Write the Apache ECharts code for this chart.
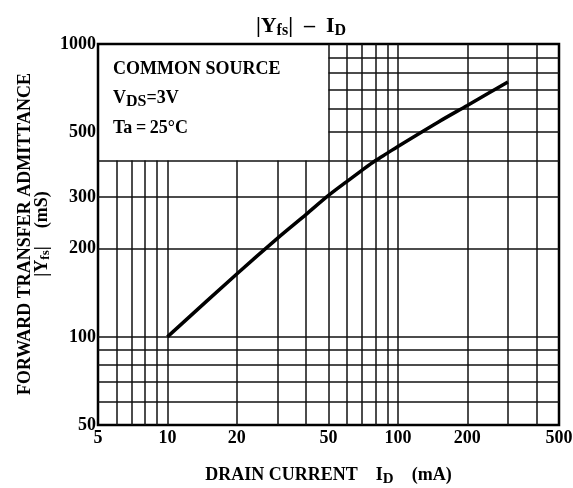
<!DOCTYPE html>
<html>
<head>
<meta charset="utf-8">
<style>
  html, body { margin: 0; padding: 0; background: #fff; }
  #chart { width: 573px; height: 488px; }
</style>
<script src="https://cdn.jsdelivr.net/npm/echarts@6/dist/echarts.min.js"></script>
</head>
<body>
<div id="chart"></div>
<script>
// Drain current I_D (mA)
const drainCurrent = [10, 20, 30, 40, 50, 60, 70, 80, 90, 100, 150, 200, 250, 300];
// |Yfs| (mS)
const admittance = [100, 164, 217, 262, 304, 339, 371, 400, 424, 447, 542, 617, 683, 742];

// axis labels and log grid lines
const xLabelValues = [5, 10, 20, 50, 100, 200, 500];
const yLabelValues = [50, 100, 200, 300, 500, 1000];
const xGridValues = [5, 6, 7, 8, 9, 10, 20, 30, 40, 50, 60, 70, 80, 90, 100, 200, 300, 400, 500];
const yGridValues = [50, 60, 70, 80, 90, 100, 200, 300, 400, 500, 600, 700, 800, 900, 1000];
const xRange = [5, 500];
const yRange = [50, 1000];
// the conditions box hides the grid left of 50 mA and above 400 mS
const boxCorner = [50, 400];

const FONT = '"Liberation Serif", "Times New Roman", serif';

// grid line segments, in data units
const gridSegments = [];
xGridValues.forEach(v => {
  if (v === xRange[0] || v === xRange[1]) return;
  const top = v < boxCorner[0] ? boxCorner[1] : yRange[1];
  gridSegments.push({ coords: [[v, yRange[0]], [v, top]] });
});
yGridValues.forEach(v => {
  if (v === yRange[0] || v === yRange[1]) return;
  const left = v > boxCorner[1] ? boxCorner[0] : xRange[0];
  gridSegments.push({ coords: [[left, v], [xRange[1], v]] });
});

const labelStyle = {
  color: '#000',
  fontFamily: FONT,
  fontWeight: 'bold',
  fontSize: 18
};

const chart = echarts.init(document.getElementById('chart'));

chart.setOption({
  animation: false,
  backgroundColor: '#fff',
  title: {
    text: '{t||Y}{s|fs}{t||  –  I}{s|D}',
    left: 296,
    textAlign: 'center',
    top: 8,
    textStyle: {
      rich: {
        t: { fontFamily: FONT, fontSize: 22, color: '#000' },
        s: { fontFamily: FONT, fontSize: 16, color: '#000', padding: [10, 0, 0, 0] }
      }
    }
  },
  grid: {
    left: 98,
    right: 14,
    top: 44,
    bottom: 63,
    outerBoundsMode: 'none',
    containLabel: false,
    show: true,
    borderColor: '#000',
    borderWidth: 2.5,
    backgroundColor: '#fff'
  },
  xAxis: {
    type: 'log',
    logBase: 10,
    min: xRange[0],
    max: xRange[1],
    axisLine: { show: false },
    axisTick: { show: false },
    splitLine: { show: false },
    minorTick: { show: false },
    axisLabel: {
      ...labelStyle,
      customValues: xLabelValues,
      margin: 4,
      formatter: v => String(v)
    },
    name: '{a|DRAIN CURRENT    I}{s|D}{a|    (mA)}',
    nameLocation: 'middle',
    nameGap: 38,
    nameTextStyle: {
      rich: {
        a: { fontFamily: FONT, fontWeight: 'bold', fontSize: 18, color: '#000' },
        s: { fontFamily: FONT, fontWeight: 'bold', fontSize: 15, color: '#000', padding: [9, 0, 0, 0] }
      }
    }
  },
  yAxis: {
    type: 'log',
    logBase: 10,
    min: yRange[0],
    max: yRange[1],
    axisLine: { show: false },
    axisTick: { show: false },
    splitLine: { show: false },
    minorTick: { show: false },
    axisLabel: {
      ...labelStyle,
      customValues: yLabelValues,
      margin: 2,
      formatter: v => String(v)
    }
  },
  graphic: [
    {
      // y axis title, two lines, reading bottom to top
      type: 'text', x: 34, y: 234, rotation: Math.PI / 2, z: 10,
      style: {
        text: '{a|FORWARD TRANSFER ADMITTANCE}\n{a||Y}{s|fs}{a||    (mS)}',
        align: 'center',
        verticalAlign: 'middle',
        lineHeight: 17,
        rich: {
          a: { fontFamily: FONT, fontWeight: 'bold', fontSize: 18, lineHeight: 17, fill: '#000', align: 'center' },
          s: { fontFamily: FONT, fontWeight: 'bold', fontSize: 13, fill: '#000', padding: [6, 0, 0, 0] }
        }
      }
    },
    {
      type: 'text', left: 113, top: 60, z: 10,
      style: { text: 'COMMON SOURCE', font: 'bold 18px ' + FONT, fill: '#000' }
    },
    {
      type: 'text', left: 113, top: 89, z: 10,
      style: {
        text: '{a|V}{s|DS}{a|=3V}',
        rich: {
          a: { fontFamily: FONT, fontWeight: 'bold', fontSize: 18, fill: '#000' },
          s: { fontFamily: FONT, fontWeight: 'bold', fontSize: 16, fill: '#000', padding: [7, 0, 0, 0] }
        }
      }
    },
    {
      type: 'text', left: 113, top: 119, z: 10,
      style: { text: 'Ta\u2009=\u200925°C', font: 'bold 18px ' + FONT, fill: '#000' }
    }
  ],
  series: [
    {
      name: 'grid',
      type: 'lines',
      coordinateSystem: 'cartesian2d',
      silent: true,
      z: 1,
      lineStyle: { color: '#111', width: 1.5, opacity: 1 },
      data: gridSegments
    },
    {
      name: '|Yfs|',
      type: 'line',
      z: 3,
      showSymbol: false,
      smooth: 0.3,
      lineStyle: { color: '#000', width: 3.5 },
      data: drainCurrent.map((x, i) => [x, admittance[i]])
    }
  ]
});
</script>
</body>
</html>
